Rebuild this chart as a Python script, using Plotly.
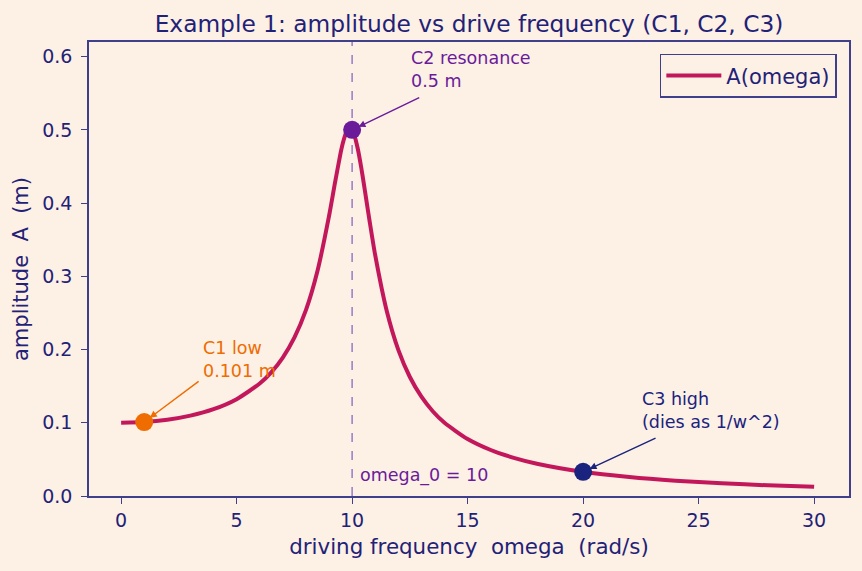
import plotly.graph_objects as go

# data
omega = [0, 1, 2, 3, 4, 5, 6, 6.5, 7, 7.5, 8, 8.5, 9, 9.25, 9.5, 9.6, 9.75, 9.8, 9.9, 10,
         10.1, 10.25, 10.4, 10.5, 10.6, 10.75, 11, 11.5, 12, 12.5, 13, 13.5, 14, 15, 16, 17, 18,
         20, 22, 24, 26, 28, 30]
amp = [0.1, 0.101, 0.1041, 0.1097, 0.1185, 0.1322, 0.1536, 0.1689, 0.1891, 0.2162, 0.2538,
       0.3073, 0.3821, 0.4261, 0.4683, 0.4822, 0.4971, 0.5001, 0.5025, 0.5,
       0.4926, 0.4735, 0.4476, 0.4279, 0.4075, 0.3768, 0.3288, 0.2525, 0.1995, 0.1625,
       0.1356, 0.1154, 0.1, 0.0778, 0.0628, 0.0521, 0.0441, 0.033, 0.0259, 0.0209, 0.0173,
       0.0146, 0.0125]

case_names = ["C1", "C2", "C3"]
case_omega = [1, 10, 20]
case_amp = [0.101, 0.5, 0.033]
case_colors = ["#ef6c00", "#6a1b9a", "#1a237e"]
case_text = ["C1 low<br>0.101 m", "C2 resonance<br>0.5 m", "C3 high<br>(dies as 1/w^2)"]
case_text_pos = [(3.45, 0.154), (12.45, 0.55), (22.45, 0.085)]
case_arrow_tail = [(3.42, 0.158), (12.97, 0.545), (23.2, 0.08)]

omega0 = 10
x_ticks = [0, 5, 10, 15, 20, 25, 30]
y_ticks = [0.0, 0.1, 0.2, 0.3, 0.4, 0.5, 0.6]

BG = "#fdf0e5"
NAVY = "#1f2277"
SPINE = "#3f3f8c"
CURVE = "#c2185b"
FONT = "DejaVu Sans"

fig = go.Figure()
fig.add_trace(go.Scatter(x=omega, y=amp, mode="lines", name="A(omega)",
                         line=dict(color=CURVE, width=4, shape="spline", smoothing=0.6)))

for i in range(3):
    fig.add_trace(go.Scatter(x=[case_omega[i]], y=[case_amp[i]], mode="markers",
                             marker=dict(color=case_colors[i], size=18),
                             showlegend=False, name=case_names[i]))

fig.add_shape(type="line", x0=omega0, x1=omega0, y0=0, y1=1, xref="x", yref="paper",
              line=dict(color="#8a68c4", width=1.3, dash="dash"), layer="below")

annotations = []
for i in range(3):
    tx, ty = case_text_pos[i]
    annotations.append(dict(x=tx, y=ty, xref="x", yref="y", text=case_text[i],
                            showarrow=False, xanchor="left", yanchor="bottom", align="left",
                            font=dict(family=FONT, size=17.5, color=case_colors[i])))
    ax, ay = case_arrow_tail[i]
    annotations.append(dict(x=case_omega[i], y=case_amp[i], ax=ax, ay=ay, xref="x", yref="y",
                            axref="x", ayref="y", text="", showarrow=True,
                            arrowhead=2, arrowsize=1, arrowwidth=1.4,
                            arrowcolor=case_colors[i], standoff=7))
annotations.append(dict(x=10.25, y=0.011, xref="x", yref="y", text="omega_0 = 10",
                        showarrow=False, xanchor="left", yanchor="bottom",
                        font=dict(family=FONT, size=17.5, color="#6a1b9a")))

fig.update_layout(
    width=862, height=571,
    paper_bgcolor=BG, plot_bgcolor=BG,
    margin=dict(l=89, r=13, t=42, b=75),
    font=dict(family=FONT, color=NAVY, size=20),
    title=dict(text="Example 1: amplitude vs drive frequency (C1, C2, C3)",
               x=(89 + 849) / 2 / 862, xanchor="center", y=1 - 24 / 571, yanchor="middle",
               font=dict(family=FONT, size=23.3, color=NAVY)),
    legend=dict(x=0.984, y=0.974, xanchor="right", yanchor="top",
                bgcolor=BG, bordercolor=SPINE, borderwidth=1.5, itemwidth=55,
                font=dict(family=FONT, size=21, color=NAVY)),
    annotations=annotations,
    showlegend=True,
)

fig.update_xaxes(range=[-1.39, 31.51], tickvals=x_ticks, ticktext=[str(v) for v in x_ticks],
                 showgrid=False, zeroline=False, showline=True, linecolor=SPINE, linewidth=1.5,
                 mirror=True, ticks="outside", ticklen=6, tickwidth=1.3, tickcolor=SPINE,
                 ticklabelstandoff=0,
                 tickfont=dict(family=FONT, size=19, color=NAVY),
                 title=dict(text="driving frequency\u00a0 omega\u00a0 (rad/s)",
                            font=dict(family=FONT, size=21.4, color=NAVY), standoff=9))
fig.update_yaxes(range=[0, 0.62], tickvals=y_ticks, ticktext=[f"{v:.1f}" for v in y_ticks],
                 showgrid=False, zeroline=False, showline=True, linecolor=SPINE, linewidth=1.5,
                 mirror=True, ticks="outside", ticklen=6, tickwidth=1.3, tickcolor=SPINE,
                 ticklabelstandoff=5,
                 tickfont=dict(family=FONT, size=19, color=NAVY),
                 title=dict(text="amplitude\u00a0 A\u00a0 (m)",
                            font=dict(family=FONT, size=21, color=NAVY), standoff=8))

fig.write_html("out.html")
